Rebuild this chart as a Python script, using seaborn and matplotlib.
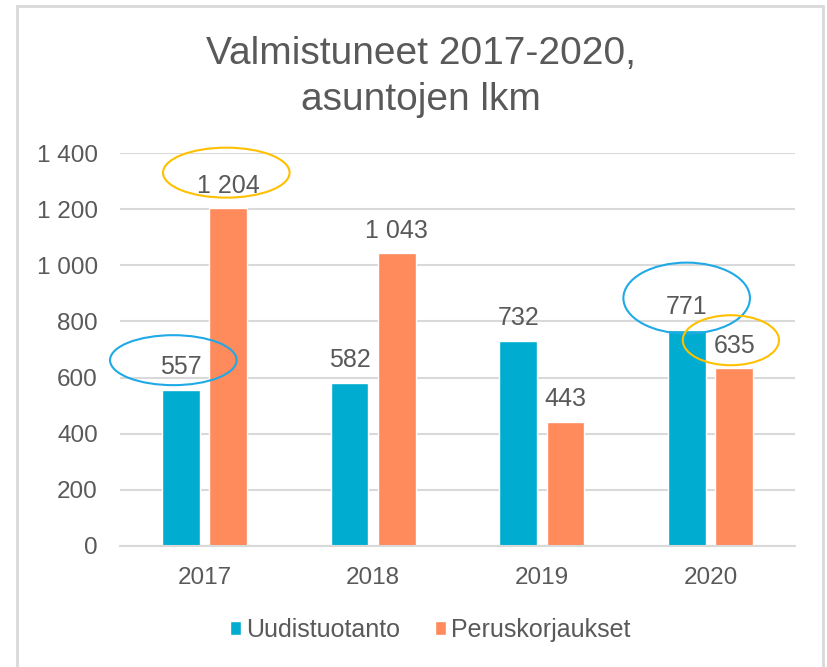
import seaborn as sns
import matplotlib.pyplot as plt
import pandas as pd
from matplotlib.patches import Ellipse, Rectangle
from matplotlib.ticker import FuncFormatter

sns.set_style("white")
plt.rcParams["font.family"] = ["Liberation Sans", "DejaVu Sans"]

# Data
years = ["2017", "2018", "2019", "2020"]
series = ["Uudistuotanto", "Peruskorjaukset"]
uudistuotanto = [557, 582, 732, 771]
peruskorjaukset = [1204, 1043, 443, 635]
colors = ["#00ADD0", "#FF8A5B"]
text_color = "#595959"
grid_color = "#D9D9D9"

df = pd.DataFrame({
    "Vuosi": years * 2,
    "Sarja": [series[0]] * 4 + [series[1]] * 4,
    "Asunnot": uudistuotanto + peruskorjaukset,
})

fig = plt.figure(figsize=(8.27, 6.67), dpi=100)
ax = fig.add_axes([120 / 827, 1 - 546 / 667, 675 / 827, 393 / 667])

sns.barplot(data=df, x="Vuosi", y="Asunnot", hue="Sarja", palette=colors,
            width=0.56, gap=0.2, ax=ax, legend=True, saturation=1)

ax.set_ylim(0, 1400)
ax.set_xlim(-0.5, 3.5)
ax.set_yticks(range(0, 1401, 200))
ax.yaxis.set_major_formatter(FuncFormatter(lambda v, p: f"{v:,.0f}".replace(",", " ")))
ax.grid(axis="y", color=grid_color, linewidth=1.5)
ax.set_axisbelow(True)
for s in ["left", "right", "top"]:
    ax.spines[s].set_visible(False)
ax.spines["bottom"].set_color(grid_color)
ax.spines["bottom"].set_linewidth(1.5)
ax.tick_params(axis="both", length=0, labelsize=17.5, labelcolor=text_color)
ax.tick_params(axis="y", pad=16)
ax.tick_params(axis="x", pad=15)
ax.set_xlabel("")
ax.set_ylabel("")

# value labels
for container in ax.containers:
    for bar in container:
        h = bar.get_height()
        ax.annotate(f"{h:,.0f}".replace(",", " "),
                    (bar.get_x() + bar.get_width() / 2, h),
                    xytext=(0, 16), textcoords="offset points",
                    ha="center", va="center", fontsize=18, color=text_color)

# highlight ellipses
blue_ring = "#1FA9E6"
yellow_ring = "#FFC000"
for (cx, cy, w, h, c) in [(-0.184, 662, 0.75, 178, blue_ring),
                          (0.13, 1330, 0.75, 178, yellow_ring),
                          (2.858, 883, 0.75, 253, blue_ring),
                          (3.12, 733, 0.57, 178, yellow_ring)]:
    ax.add_patch(Ellipse((cx, cy), w, h, fill=False, edgecolor=c,
                         linewidth=1.5, clip_on=False, zorder=5))

# legend
handles, labels = ax.get_legend_handles_labels()
ax.legend(handles, labels, loc="center", bbox_to_anchor=(430 / 827, 1 - 630 / 667),
          bbox_transform=fig.transFigure, ncol=2, frameon=False, fontsize=18,
          labelcolor=text_color, handlelength=0.45, handleheight=0.45,
          handletextpad=0.2, columnspacing=1.4)

fig.text(421 / 827, 1 - 36 / 667, "Valmistuneet 2017-2020,\nasuntojen lkm",
         ha="center", va="top", fontsize=28, color=text_color, linespacing=1.35)

# chart border
fig.patches.append(Rectangle((17 / 827, -0.05), 806 / 827, 1.05 - 6 / 667,
                             transform=fig.transFigure, fill=False,
                             edgecolor=grid_color, linewidth=2))

fig.savefig("out.png", dpi=100)
plt.close(fig)
